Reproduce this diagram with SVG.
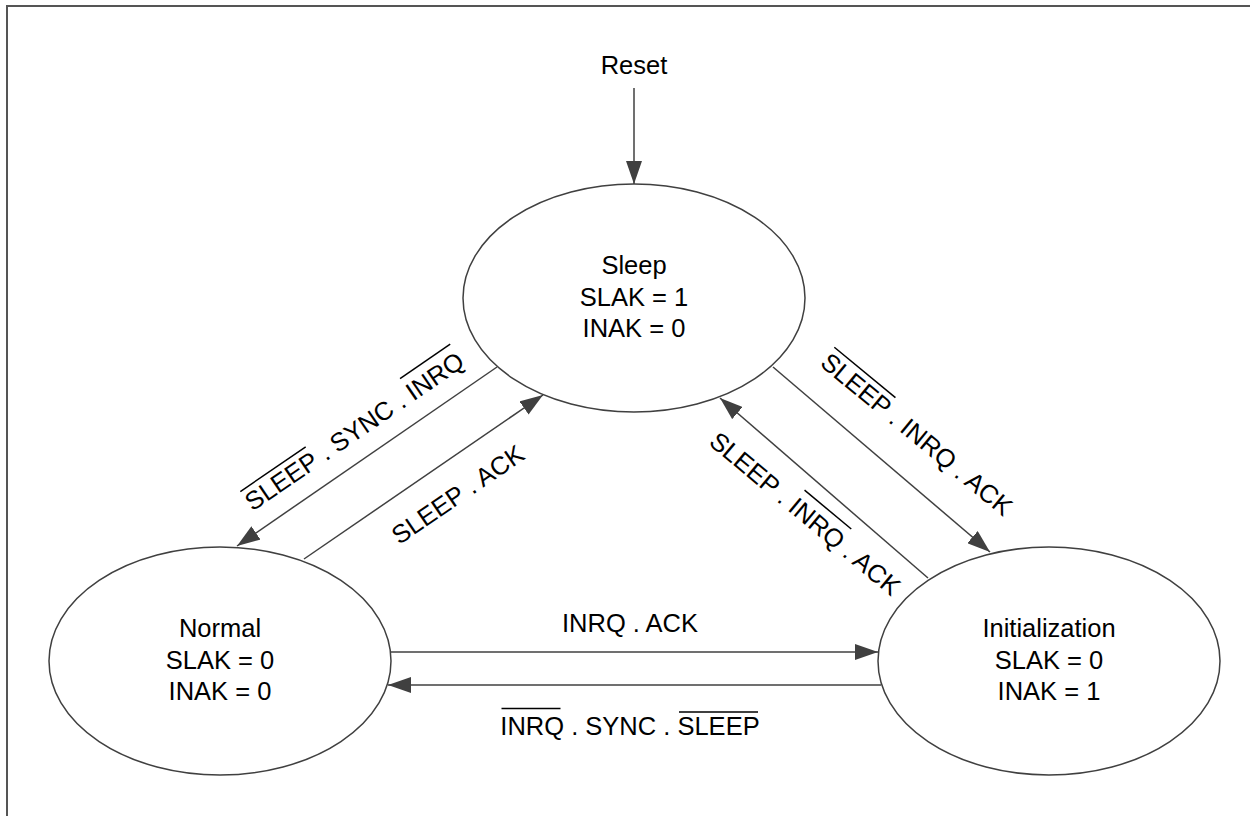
<svg xmlns="http://www.w3.org/2000/svg" width="1250" height="816" viewBox="0 0 1250 816">
<style>
text{font-family:"Liberation Sans",Arial,sans-serif;font-size:25.5px;fill:#000;text-anchor:middle}
.node{fill:#fff;stroke:#404040;stroke-width:1.5}
.edge{fill:none;stroke:#404040;stroke-width:1.5}
.ol{stroke:#000;stroke-width:1.5}
</style>
<defs>
<marker id="arr" markerUnits="userSpaceOnUse" viewBox="0 0 23 16" refX="23" refY="8" markerWidth="23" markerHeight="16" orient="auto">
<path d="M0,0 L23,8 L0,16 z" fill="#404040"/>
</marker>
</defs>
<rect x="7" y="6" width="1300" height="900" fill="#fff" stroke="#555" stroke-width="2"/>
<g id="connectors">
<path class="edge" d="M634,88 L634,184" marker-end="url(#arr)"/>
<path class="edge" d="M497,367 L237,546" marker-end="url(#arr)"/>
<path class="edge" d="M304,559 L543,395" marker-end="url(#arr)"/>
<path class="edge" d="M773,367 L990,552" marker-end="url(#arr)"/>
<path class="edge" d="M928,578 L720,398" marker-end="url(#arr)"/>
<path class="edge" d="M391,652 L878,652" marker-end="url(#arr)"/>
<path class="edge" d="M881,685 L388,685" marker-end="url(#arr)"/>
</g>
<g id="labels">
<text x="634" y="74">Reset</text>
<g transform="translate(359.4,438.5) rotate(-34.4)">
<text x="0" y="0">SLEEP . SYNC . INRQ</text>
<line class="ol" x1="-128.2" y1="-23.5" x2="-49" y2="-23.5"/>
<line class="ol" x1="67.4" y1="-26.5" x2="128.2" y2="-26.5"/>
</g>
<g transform="translate(462.7,501.7) rotate(-34.4)">
<text x="0" y="0">SLEEP . ACK</text>
</g>
<g transform="translate(911.2,441.1) rotate(39.5)">
<text x="0" y="0">SLEEP . INRQ . ACK</text>
<line class="ol" x1="-119" y1="-23.5" x2="-39.8" y2="-23.5"/>
</g>
<g transform="translate(799.5,520.4) rotate(39.8)">
<text x="0" y="0">SLEEP . INRQ . ACK</text>
<line class="ol" x1="-15.5" y1="-26.5" x2="45.3" y2="-26.5"/>
</g>
<text x="630" y="632">INRQ . ACK</text>
<text x="630" y="735">INRQ . SYNC . SLEEP</text>
<line class="ol" x1="501.5" y1="708.5" x2="560.5" y2="708.5"/>
<line class="ol" x1="679" y1="712" x2="758" y2="712"/>
</g>
<g id="sleep">
<ellipse class="node" cx="634" cy="298" rx="171" ry="114"/>
<text x="634" y="274">Sleep</text>
<text x="634" y="305.5">SLAK = 1</text>
<text x="634" y="336.5">INAK = 0</text>
</g>
<g id="normal">
<ellipse class="node" cx="220" cy="661" rx="171" ry="114"/>
<text x="220" y="637">Normal</text>
<text x="220" y="668.5">SLAK = 0</text>
<text x="220" y="699.5">INAK = 0</text>
</g>
<g id="initialization">
<ellipse class="node" cx="1049" cy="661" rx="171" ry="114"/>
<text x="1049" y="637">Initialization</text>
<text x="1049" y="668.5">SLAK = 0</text>
<text x="1049" y="699.5">INAK = 1</text>
</g>
</svg>
